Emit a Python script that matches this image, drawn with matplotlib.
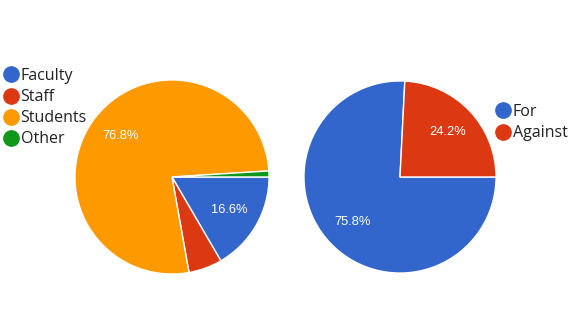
import matplotlib.pyplot as plt
from matplotlib.lines import Line2D

# data
role_labels = ["Faculty", "Staff", "Students", "Other"]
role_values = [16.6, 5.6, 76.8, 1.0]
role_colors = ["#3366CC", "#DC3912", "#FF9900", "#109618"]

vote_labels = ["For", "Against"]
vote_values = [75.8, 24.2]
vote_colors = ["#3366CC", "#DC3912"]

W, H = 580, 330
fig = plt.figure(figsize=(W / 100, H / 100), dpi=100)
fig.patch.set_facecolor("white")


def pie_axes(cx, cy, r):
    # pixel centre/radius -> figure axes
    return fig.add_axes([(cx - r) / W, (H - cy - r) / H, 2 * r / W, 2 * r / H])


def pct(v):
    return "%.1f%%" % v if v > 7 else ""


def draw_pie(ax, values, colors):
    ax.pie(
        values, colors=colors, startangle=0, counterclock=False,
        autopct=pct, pctdistance=0.68,
        wedgeprops=dict(edgecolor="white", linewidth=1),
        textprops=dict(color="white", fontsize=9.3, family="Liberation Sans"),
    )
    ax.set_xlim(-1.01, 1.01)
    ax.set_ylim(-1.01, 1.01)
    ax.set_aspect("equal")
    ax.axis("off")


def legend(labels, colors, x, y):
    handles = [Line2D([], [], marker="o", linestyle="", markersize=11,
                      markerfacecolor=c, markeredgecolor=c) for c in colors]
    leg = fig.legend(handles, labels, loc="upper left", bbox_to_anchor=(x / W, 1 - y / H),
                     frameon=False, handletextpad=0.1, labelspacing=0.32,
                     handlelength=1.0, borderaxespad=0, borderpad=0,
                     prop=dict(family="Open Sans", size=11.5))
    for t in leg.get_texts():
        t.set_color("#222222")


ax1 = pie_axes(172, 177, 98)
draw_pie(ax1, role_values, role_colors)
legend(role_labels, role_colors, 3, 68)

ax2 = pie_axes(400, 177, 97)
draw_pie(ax2, vote_values, vote_colors)
legend(vote_labels, vote_colors, 495, 104)

fig.savefig("out.png", dpi=100, facecolor="white")
